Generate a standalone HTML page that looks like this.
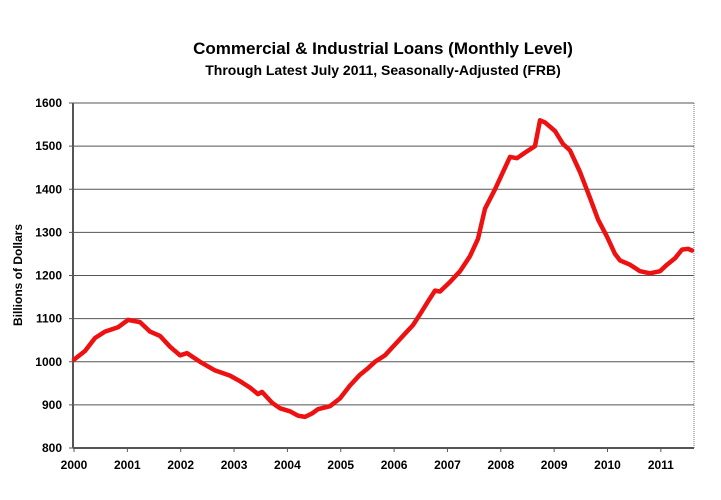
<!DOCTYPE html>
<html><head><style>body{margin:0;background:#fff}</style></head><body>
<svg width="721" height="495" xmlns="http://www.w3.org/2000/svg" font-family="Liberation Sans, Arial, sans-serif" font-weight="bold">
<text x="383" y="54" text-anchor="middle" font-size="17">Commercial &amp; Industrial Loans (Monthly Level)</text>
<text x="383" y="75" text-anchor="middle" font-size="14">Through Latest July 2011, Seasonally-Adjusted (FRB)</text>
<text transform="translate(22,275) rotate(-90)" text-anchor="middle" font-size="12">Billions of Dollars</text>
<g id="grid"></g>
<polyline id="line" fill="none" stroke="#ee1111" stroke-width="4.5" stroke-linejoin="round" stroke-linecap="round"/>
</svg>
<script>
var g=document.getElementById('grid'),ns='http://www.w3.org/2000/svg',h='';
function Y(v){return 448-(v-800)*0.43125;}
for(var v=800;v<=1600;v+=100){var y=Y(v);
 if(v>800)h+='<line x1="73" x2="694" y1="'+y+'" y2="'+y+'" stroke="#555" stroke-width="1"/>';
 h+='<line x1="69" x2="73" y1="'+y+'" y2="'+y+'" stroke="#555"/>';
 h+='<text x="62" y="'+(y+4)+'" text-anchor="end" font-size="12">'+v+'</text>';}
h+='<line x1="694" x2="694" y1="103" y2="448" stroke="#777" stroke-dasharray="1,1"/>';
h+='<line x1="73" x2="73" y1="103" y2="448" stroke="#555" stroke-width="2"/>';
h+='<line x1="73" x2="694" y1="448" y2="448" stroke="#555" stroke-width="2"/>';
for(var i=0;i<=11;i++){var x=74+i*53.35;
 h+='<line x1="'+x+'" x2="'+x+'" y1="448" y2="452" stroke="#555"/>';
 h+='<text x="'+x+'" y="469" text-anchor="middle" font-size="12">'+(2000+i)+'</text>';}
g.innerHTML=h;
var d=[[74,1005],[85,1025],[95,1055],[105,1070],[118,1080],[128,1097],[140,1092],[150,1070],[160,1060],[170,1035],[180,1015],[187,1020],[200,1000],[215,980],[230,968],[240,955],[250,940],[258,925],[262,930],[272,905],[280,892],[290,885],[298,875],[305,872],[312,880],[318,890],[330,897],[340,915],[350,945],[360,970],[368,985],[375,1000],[385,1015],[395,1040],[405,1065],[413,1085],[420,1110],[428,1140],[435,1165],[440,1163],[450,1185],[460,1210],[470,1245],[478,1285],[485,1355],[495,1400],[505,1450],[510,1475],[517,1472],[525,1485],[535,1500],[540,1560],[545,1555],[555,1535],[563,1505],[570,1490],[580,1440],[590,1380],[598,1330],[607,1290],[615,1250],[620,1235],[630,1225],[640,1210],[650,1205],[660,1210],[667,1225],[675,1240],[682,1260],[688,1262],[692,1258]];
document.getElementById('line').setAttribute('points',d.map(function(p){return p[0]+','+Y(p[1]).toFixed(1)}).join(' '));
</script>
</body></html>
